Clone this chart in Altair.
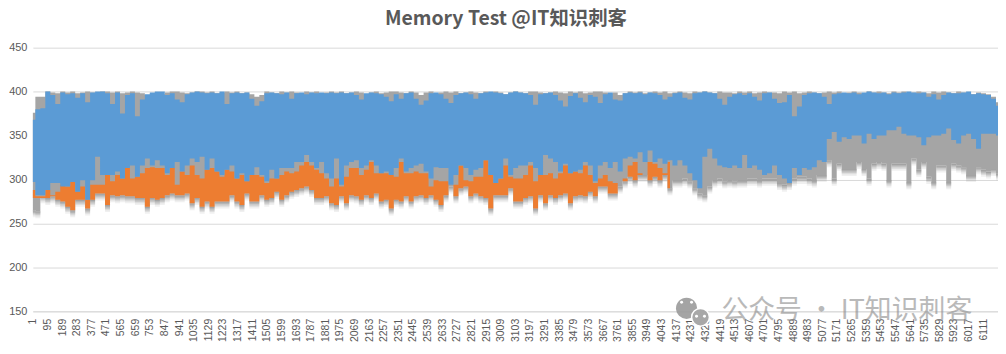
import altair as alt
import pandas as pd

title_text = "Memory Test @IT知识刺客"
tick_values = list(range(1, 6112, 94))
y_ticks = [150, 200, 250, 300, 350, 400, 450]
sample_step = 32  # one reading about every 5 px of the picture
x_max = 6206

gray_high = [376, 394, 394, 400, 399, 398, 400, 399, 400, 398, 399, 400, 399, 398, 400, 400, 399, 400, 398, 399,
             400, 399, 398, 396, 398, 399, 397, 399, 400, 400, 399, 398, 399, 400, 400, 399, 400, 398, 399, 400,
             399, 400, 398, 399, 397, 394, 396, 400, 399, 398, 400, 399, 400, 399, 398, 400, 399, 400, 398, 399,
             400, 399, 400, 398, 399, 400, 399, 397, 399, 400, 398, 399, 400, 400, 399, 398, 400, 399, 396, 399,
             400, 398, 399, 400, 399, 400, 398, 399, 400, 399, 398, 400, 399, 400, 399, 397, 399, 400, 399, 398,
             400, 400, 399, 398, 399, 400, 399, 398, 400, 399, 400, 398, 399, 400, 400, 399, 398, 399, 396, 398,
             400, 399, 400, 398, 399, 400, 399, 400, 398, 399, 400, 399, 398, 400, 399, 400, 399, 398, 400, 399,
             399, 398, 400, 399, 400, 398, 399, 400, 399, 399, 398, 400, 399, 400, 398, 399, 400, 399, 398, 399,
             400, 399, 400, 398, 399, 400, 399, 398, 400, 399, 400, 399, 398, 400, 399, 400, 398, 399, 400, 399,
             398, 400, 399, 400, 399, 398, 400, 399, 398, 397, 399, 398, 397, 394, 388]

blue_high = [368, 380, 381, 400, 396, 386, 399, 397, 398, 393, 398, 388, 399, 400, 400, 398, 386, 399, 375, 396,
             398, 372, 391, 397, 399, 400, 400, 396, 398, 391, 388, 397, 399, 400, 399, 398, 399, 398, 400, 386,
             398, 399, 398, 399, 392, 384, 389, 398, 399, 398, 397, 399, 392, 398, 399, 397, 399, 398, 399, 398,
             399, 398,
             399, 398, 399, 396, 391, 398, 399, 398, 397, 394, 389, 397, 392, 398, 399, 392, 385, 390, 398, 399,
             397, 392, 387, 396, 398, 399, 397, 392, 398, 399, 400, 399, 398, 397, 399, 400, 399, 398, 396, 385,
             397, 398, 399, 396, 390, 383, 395, 398, 393, 388, 396, 394, 387, 397, 399, 391, 390, 398, 399, 398,
             399, 397, 399, 398, 396, 391, 394, 398, 399, 393, 391, 398, 399, 400, 399, 398, 392, 385, 394, 397,
             398, 396, 398, 394, 390, 398, 399, 392, 387, 388, 396, 372, 383, 396, 398, 399, 398, 394, 386, 397,
             398, 399, 398, 399, 397, 399, 400, 399, 398, 399, 397, 399, 398, 399, 400, 399, 398, 399, 394, 397,
             391, 396, 399, 398, 398, 399, 400, 397, 398, 397, 396, 392, 384]

blue_low = [297, 282, 282, 288, 296, 296, 292, 292, 297, 286, 299, 277, 299, 326, 305, 305, 305, 309, 301, 313,
            316, 303, 316, 324, 316, 322, 316, 307, 313, 320, 309, 316, 324, 320, 326, 311, 324, 309, 305, 311,
            316, 301, 307, 298, 305, 314, 305, 298, 311, 301, 313, 313, 313, 320, 320, 328, 320, 313, 320, 307,
            301, 324, 294, 316, 320, 322, 313, 316, 322, 316, 307, 309, 305, 313, 324, 309, 313, 316, 318, 309,
            301, 314, 313, 313, 294, 305, 316, 313, 305, 311, 313, 322, 305, 296, 301, 324, 305, 313, 316, 316,
            320, 313, 305, 328, 324, 320, 309, 318, 307, 309, 311, 320, 316, 298, 316, 320, 313, 320, 309, 324,
            326, 324, 331, 320, 333, 320, 324, 318, 322, 316, 322, 316, 307, 299, 290, 326, 335, 324, 316, 314,
            313, 316, 313, 328, 313, 316, 311, 305, 307, 316, 305, 301, 296, 313, 305, 313, 311, 314, 322, 320,
            346, 354, 343, 348, 346, 350, 350, 341, 352, 346, 350, 350, 356, 356, 360, 352, 350, 350, 348, 339,
            348, 350, 350, 352, 358, 345, 341, 350, 352, 346, 335, 352, 352, 352, 350]

orange_high = [288, 279, 279, 288, 282, 286, 294, 292, 299, 286, 292, 277, 294, 294, 294, 305, 298, 305, 301, 313,
               301, 303, 307, 313, 314, 313, 313, 305, 313, 294, 309, 305, 316, 305, 301, 311, 313, 309, 303, 311,
               309, 301, 305, 298, 305, 305, 303, 296, 301, 301, 305, 309, 307, 309, 316, 320, 316, 311, 307, 301,
               292, 301, 292, 303, 313, 313, 305, 311, 320, 307, 307, 307, 305, 303, 320, 307, 307, 309, 307, 307,
               292, 299, 298, 298, 292, 294, 316, 299, 298, 303, 303, 322, 305, 296, 301, 316, 303, 301, 301, 305,
               316, 298, 305, 305, 307, 301, 307, 316, 307, 309, 307, 316, 305, 296, 301, 305, 298, 296, 292, 301,
               316, 320, 307, 305, 320, 318, 313, 307, 320]

orange_low = [279, 281, 281, 279, 281, 277, 275, 269, 265, 277, 277, 267, 277, 284, 284, 271, 282, 281, 282, 281,
              281, 279, 279, 269, 279, 277, 279, 282, 284, 282, 282, 284, 273, 279, 269, 275, 269, 275, 275, 275,
              282, 275, 271, 284, 275, 275, 282, 277, 279, 286, 277, 282, 286, 288, 290, 292, 288, 279, 279, 281,
              273, 271, 281, 273, 282, 281, 277, 282, 279, 284, 275, 277, 267, 277, 275, 281, 275, 281, 282, 279,
              282, 277, 271, 282, 292, 281, 290, 292, 281, 284, 281, 279, 267, 282, 282, 282, 290, 275, 275, 279,
              281, 267, 282, 273, 282, 279, 282, 284, 273, 281, 282, 281, 286, 281, 292, 292, 284, 284, 292, 298,
              303, 299, 305, 305, 299, 303, 299, 305, 290]

gray_low_head = [265, 264, 281]
gray_low_tail = [299, 299, 301, 298, 290, 284, 282, 292, 299, 301, 298, 299, 298, 299, 299, 301, 301, 299, 301, 301,
                 301, 296, 294, 296, 301, 303, 303, 301, 299, 305, 305,
                 322, 301, 318, 312, 312, 312, 320, 312, 301, 318, 320, 318, 299, 318, 318, 318, 297, 324, 311, 320,
                 303, 297, 316, 316, 297, 318, 316, 314, 305, 305, 314, 311, 309, 312, 307]

gray_low = gray_low_head + orange_low[3:] + gray_low_tail
assert len(gray_low) == len(gray_high) == len(blue_high) == len(blue_low) == 195
assert len(orange_high) == len(orange_low) == 129

index = [1 + i * sample_step for i in range(len(blue_low))]
df = pd.DataFrame({"x": index, "gh": gray_high, "gl": gray_low, "bh": blue_high, "bl": blue_low})
df_orange = pd.DataFrame({"x": index[:len(orange_low)], "oh": orange_high, "ol": orange_low})

x_scale = alt.Scale(domain=[1, x_max], nice=False, zero=False)
y_scale = alt.Scale(domain=[150, 450], nice=False, zero=False)
FONT = "Liberation Sans"
TXT = "#595959"
GRID = "#d9d9d9"
INTERP = "step"

x_axis = alt.Axis(values=tick_values, labelAngle=270, labelFont=FONT, labelFontSize=10.5, labelColor=TXT,
                  labelAlign="right", labelBaseline="middle", labelPadding=7, labelOverlap=False,
                  labelFlush=False, labelBound=False,
                  ticks=False, grid=False, domainColor=GRID, format="d", title=None)
y_axis = alt.Axis(values=y_ticks, labelFont=FONT, labelFontSize=11, labelColor=TXT, labelPadding=6,
                  labelOverlap=False, ticks=False, domain=False, grid=True, gridColor=GRID, gridWidth=1, title=None)


def X():
    return alt.X("x:Q", scale=x_scale, axis=x_axis)


def Y(field):
    return alt.Y(field, scale=y_scale, axis=y_axis)


base = alt.Chart(df)
layers = []
# soft shadow under the gray and orange series
for d, op in [(8, 0.10), (6, 0.14), (4.5, 0.18), (3, 0.22), (1.5, 0.25)]:
    layers.append(
        base.transform_calculate(s=f"datum.gl-{d}").mark_area(color="#6e6e6e", opacity=op, interpolate=INTERP).encode(
            x=X(), y=Y("s:Q"), y2="gl:Q")
    )
layers += [
    base.mark_area(color="#a5a5a5", interpolate=INTERP).encode(x=X(), y=Y("gh:Q"), y2="gl:Q"),
    alt.Chart(df_orange).mark_area(color="#ed7d31", interpolate=INTERP).encode(
        x=X(), y=Y("oh:Q"), y2="ol:Q"),
    base.mark_area(color="#5b9bd5", interpolate=INTERP).encode(x=X(), y=Y("bh:Q"), y2="bl:Q"),
]

# WeChat-style watermark and the frame line at the bottom of the picture
mark_df = alt.Data(values=[{"t": "公众号 · IT知识刺客"}])
layers += [
    alt.Chart(mark_df).mark_text(font="Noto Sans CJK SC", fontSize=27, align="left", baseline="middle",
                                 color="#8c8c8c", opacity=0.6).encode(
        text="t:N", x=alt.value(692), y=alt.value(265)),
    alt.Chart(mark_df).mark_point(filled=True, shape="circle", size=452, color="#9a9a9a", opacity=0.9).encode(
        x=alt.value(657), y=alt.value(262)),
    alt.Chart(mark_df).mark_point(filled=True, shape="circle", size=320, color="#a8a8a8", stroke="white",
                                  strokeWidth=1.5, opacity=1).encode(
        x=alt.value(671), y=alt.value(271)),
    alt.Chart(mark_df).mark_rule(color=GRID).encode(x=alt.value(-33), x2=alt.value(970), y=alt.value(306)),
]
for ex, ey in [(652, 256), (662, 256), (667, 270), (675, 270)]:
    layers.append(
        alt.Chart(mark_df).mark_point(filled=True, shape="circle", size=9, color="white", opacity=1).encode(
            x=alt.value(ex), y=alt.value(ey))
    )

chart = alt.layer(*layers).properties(
    width=970, height=265,
    title=alt.TitleParams(title_text, font="Noto Sans CJK SC", fontSize=19.5, fontWeight="bold", color=TXT,
                          anchor="middle", dx=-9.5, offset=12),
    padding={"left": 25, "top": 39, "right": 0, "bottom": 34},
    autosize=alt.AutoSizeParams(type="none"),
).configure_view(stroke=None)

chart.save("out.html", embed_options={"renderer": "svg", "actions": False})
